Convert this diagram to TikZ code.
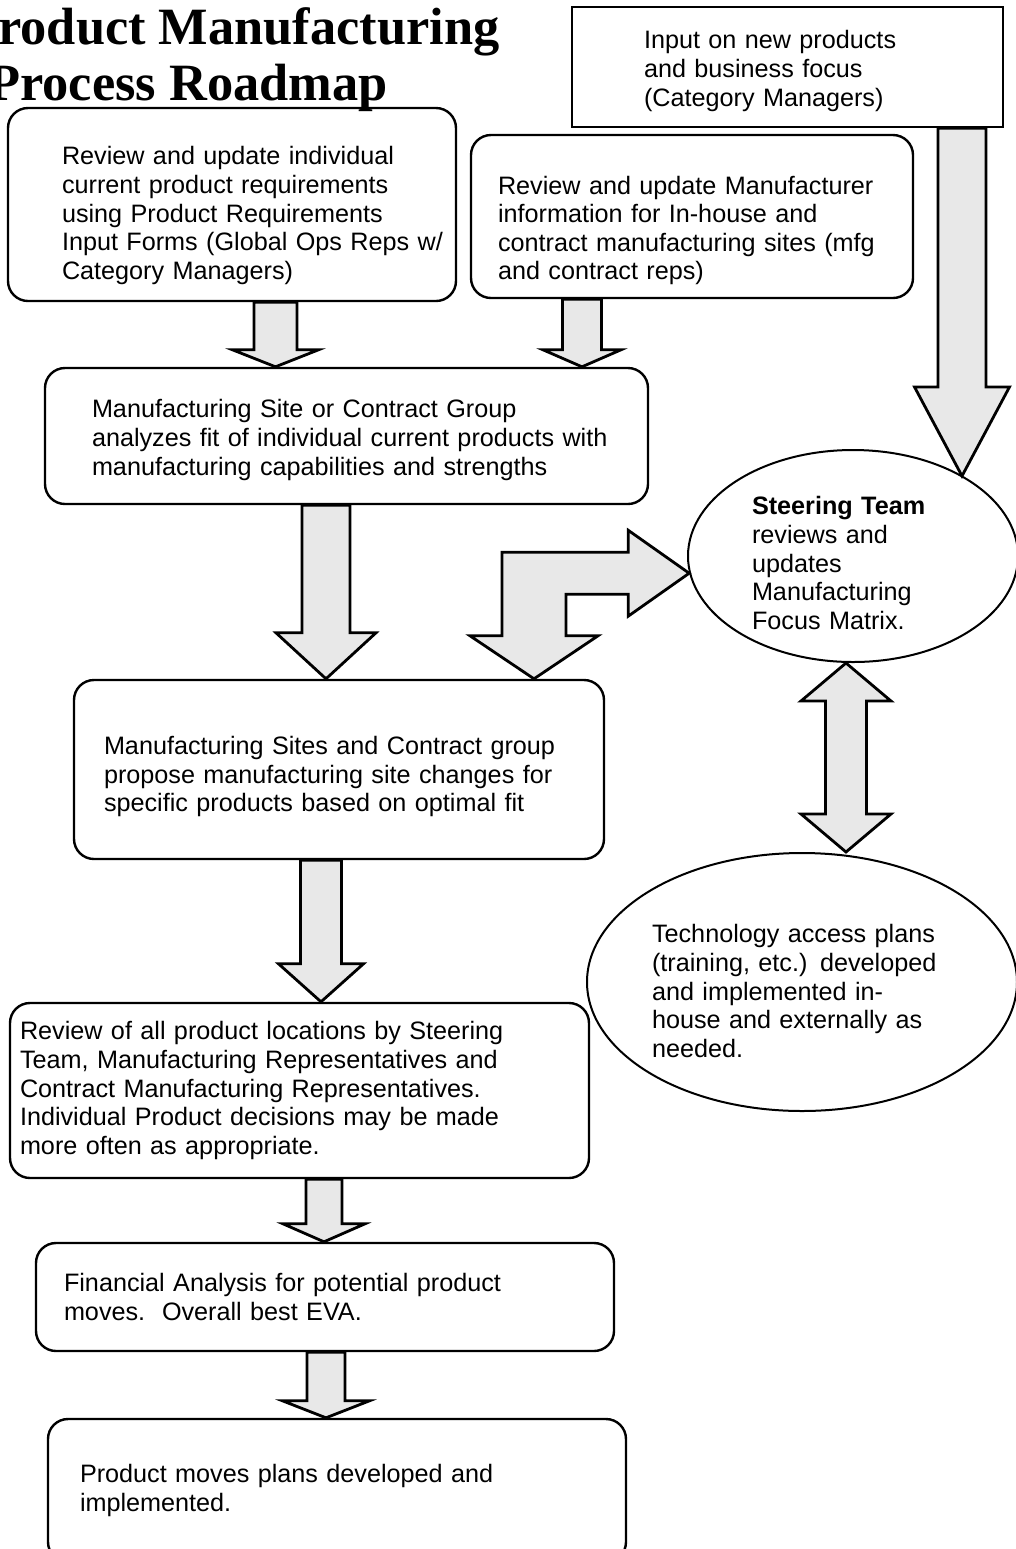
\documentclass[tikz,border=0pt]{standalone}
\usepackage{fontspec}
\setmainfont{Liberation Sans}
\newfontfamily\titlefont{Liberation Serif}
\usetikzlibrary{calc,shapes.geometric}

% block arrow going down: x, from, to, shaft half width, head half width, head length
\newcommand{\fatdown}[6]{%
  \draw[fat] ($(#1,0 |- #2)+(-#4,0)$) -- ($(#1,0 |- #3)+(-#4,-#6)$)
    -- ($(#1,0 |- #3)+(-#5,-#6)$) -- (#1,0 |- #3) -- ($(#1,0 |- #3)+(#5,-#6)$)
    -- ($(#1,0 |- #3)+(#4,-#6)$) -- ($(#1,0 |- #2)+(#4,0)$) -- cycle;}

\begin{document}
\begin{tikzpicture}[x=0.5pt,y=-0.5pt,
    txt/.style={font=\fontsize{12.6}{14.3}\selectfont, align=left, inner ysep=0pt},
    stepbox/.style={txt, draw, line width=1.2pt, rounded corners=10pt},
    plainbox/.style={txt, draw, line width=1.1pt},
    oval/.style={txt, draw, ellipse, line width=1pt, inner sep=0pt},
    fat/.style={draw, line width=1.4pt, fill=gray!18, line join=miter},
    title/.style={font=\titlefont\bfseries\fontsize{26.2}{30}\selectfont, inner sep=0pt, anchor=base east}]
  \useasboundingbox (0,0) rectangle (1016,1549);

  % title
  \node[title] (title1) at (500,44) {Product Manufacturing};
  \node[title] (title2) at (388,100) {Process Roadmap};

  % boxes
  \node[plainbox, text width=143.5pt, inner xsep=36pt, minimum height=60pt, text height=13.2pt] (input) at (787.5,67)
    {Input on new products\\and business focus\\(Category Managers)};
  \node[stepbox, text width=170pt, inner xsep=27pt, minimum height=96.5pt, text height=20.2pt] (reqs) at (232,204.5)
    {Review and update individual\\current product requirements\\using Product Requirements\\\mbox{Input Forms (Global Ops Reps w/}\\Category Managers)};
  \node[stepbox, text width=194pt, inner xsep=13.5pt, minimum height=81.5pt, text height=23.2pt] (mfrinfo) at (692,216.5)
    {Review and update Manufacturer\\information for In-house and\\contract manufacturing sites (mfg\\and contract reps)};
  \node[stepbox, text width=254.5pt, inner xsep=23.5pt, minimum height=68pt, text height=13.2pt] (analyze) at (346.5,436)
    {Manufacturing Site or Contract Group\\\mbox{analyzes fit of individual current products with}\\manufacturing capabilities and strengths};
  \node[stepbox, text width=235pt, inner xsep=15pt, minimum height=89.5pt, text height=16.2pt] (propose) at (339,769.5)
    {Manufacturing Sites and Contract group\\propose manufacturing site changes for\\specific products based on optimal fit};
  \node[stepbox, text width=279.5pt, inner xsep=5pt, minimum height=87.5pt] (review) at (299.5,1090.5)
    {Review of all product locations by Steering\\Team, Manufacturing Representatives and\\Contract Manufacturing Representatives.\\Individual Product decisions may be made\\more often as appropriate.};
  \node[stepbox, text width=261pt, inner xsep=14pt, minimum height=54pt] (finance) at (325,1297)
    {Financial Analysis for potential product\\moves.\ \ Overall best EVA.};
  \node[stepbox, text width=257pt, inner xsep=16pt, minimum height=71.5pt] (moves) at (337,1490.5)
    {Product moves plans developed and\\implemented.};

  % ellipses
  \node[oval, text width=101pt, minimum width=165pt, minimum height=106pt, text height=16.2pt] (steer) at (853,556)
    {\textbf{Steering Team}\\reviews and\\updates\\Manufacturing\\Focus Matrix.};
  \node[oval, text width=150pt, minimum width=215pt, minimum height=129pt, text height=18.2pt] (tech) at (802,982)
    {Technology access plans\\(training, etc.) developed\\and implemented in-\\house and externally as\\needed.};

  % arrows
  \fatdown{275.5}{reqs.south}{analyze.north}{21.5}{43}{17}
  \fatdown{582}{mfrinfo.south}{analyze.north}{19.5}{39}{17}
  \fatdown{962}{input.south}{steer.36}{24}{47.5}{89}
  \fatdown{326}{analyze.south}{propose.north}{24}{50}{46}
  \fatdown{321}{propose.south}{review.north}{20.5}{42.5}{38}
  \fatdown{324}{review.south}{finance.north}{18}{41}{18}
  \fatdown{326}{finance.south}{moves.north}{19}{43.5}{17}

  % split arrow to the steering team and to the proposals
  \coordinate (et) at (steer.186);
  \coordinate (ed) at (534,0 |- propose.north);
  \draw[fat] ($(ed |- et)+(-32,-21)$) -- ($(et)+(-61,-21)$) -- ($(et)+(-61,-43)$) -- (et)
    -- ($(et)+(-61,43)$) -- ($(et)+(-61,21)$) -- ($(ed |- et)+(32,21)$) -- ($(ed)+(32,-43)$)
    -- ($(ed)+(64,-43)$) -- (ed) -- ($(ed)+(-64,-43)$) -- ($(ed)+(-32,-43)$) -- cycle;

  % two way arrow
  \coordinate (dt) at (846,0 |- steer.south);
  \coordinate (db) at (846,0 |- tech.north);
  \draw[fat] (dt) -- ($(dt)+(45,38)$) -- ($(dt)+(20.5,38)$) -- ($(db)+(20.5,-38)$)
    -- ($(db)+(45,-38)$) -- (db) -- ($(db)+(-45,-38)$) -- ($(db)+(-20.5,-38)$)
    -- ($(dt)+(-20.5,38)$) -- ($(dt)+(-45,38)$) -- cycle;
\end{tikzpicture}
\end{document}
